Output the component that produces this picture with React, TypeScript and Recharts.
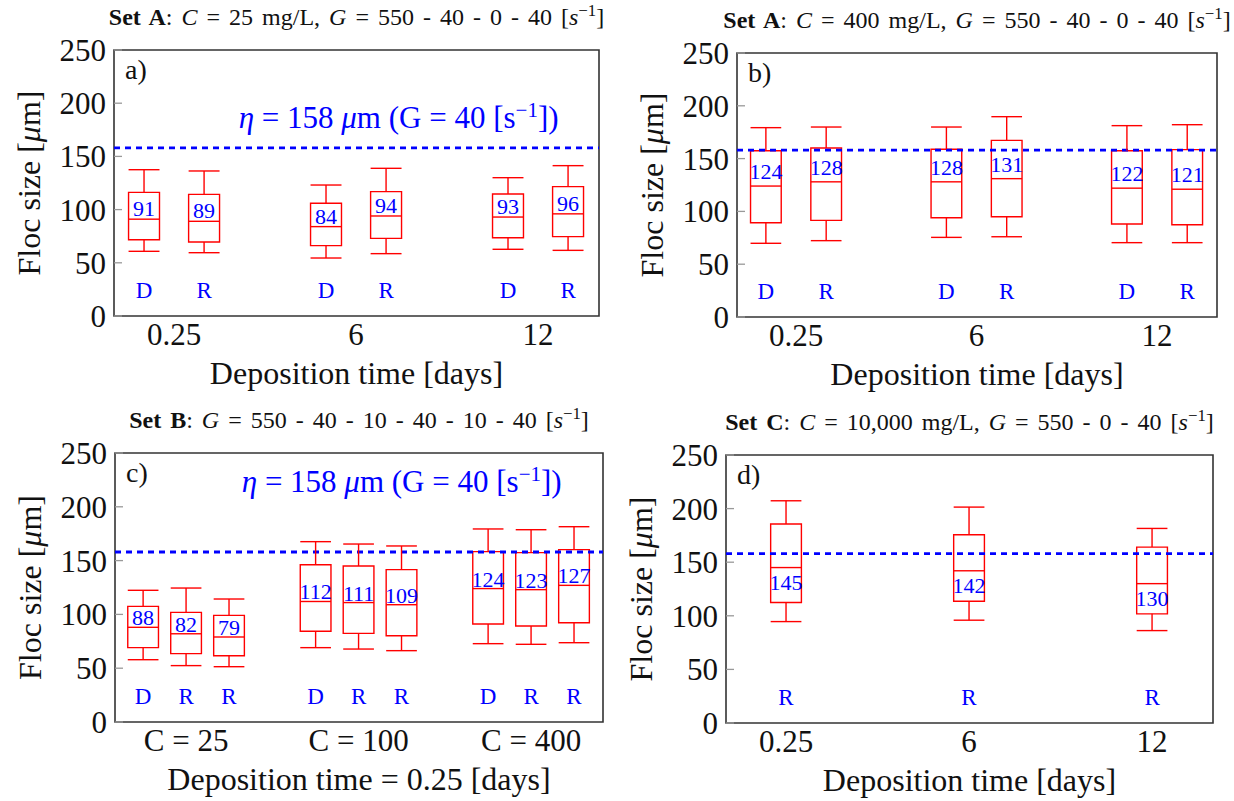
import React from 'react';
import { ComposedChart, XAxis, YAxis, Scatter, ReferenceArea, ReferenceLine } from 'recharts';

const SERIF = 'Liberation Serif, DejaVu Serif, serif';
const RED = '#ff0000';
const BLUE = '#0000ff';
const FRAME = '#333333';
const TICK_GREY = '#999999';

const Y_TICKS = [0, 50, 100, 150, 200, 250];
const ETA = 158; // Kolmogorov microscale for G = 40 s^-1

const timeLabels = ['0.25', '6', '12'];
const concLabels = ['C = 25', 'C = 100', 'C = 400'];

// every box is [min, q1, median, q3, max] in micrometres
const setA25Groups = [1, 1, 2, 2, 3, 3];
const setA25Kinds = ['D', 'R', 'D', 'R', 'D', 'R'];
const setA25Stats = [
  [60.8, 71.7, 91, 116.2, 137.5],
  [59.5, 69.5, 89, 114.3, 136.3],
  [54.5, 66.1, 84, 105.9, 123.1],
  [58.6, 73, 94, 116.9, 138.8],
  [62.7, 73.6, 93, 114.7, 130],
  [61.7, 74.6, 96, 121.6, 141.3],
];

const setA400Groups = [1, 1, 2, 2, 3, 3];
const setA400Kinds = ['D', 'R', 'D', 'R', 'D', 'R'];
const setA400Stats = [
  [69.8, 89.3, 124, 157.5, 179.3],
  [72.3, 91.5, 128, 160, 179.9],
  [75.4, 94, 128, 158.8, 179.9],
  [76, 95, 131, 167.3, 189.7],
  [70.4, 88, 122, 157.5, 181.2],
  [70.4, 87.4, 121, 158.5, 182.1],
];

const setBGroups = [1, 1, 1, 2, 2, 2, 3, 3, 3];
const setBKinds = ['D', 'R', 'R', 'D', 'R', 'R', 'D', 'R', 'R'];
const setBStats = [
  [57.9, 69.1, 88, 107.5, 122.4],
  [52.4, 63.5, 82, 101.9, 124.5],
  [51.4, 61.6, 79, 99.1, 114.3],
  [69.1, 84.3, 112, 146.2, 167.6],
  [67.8, 82.4, 111, 145, 165.4],
  [66.3, 80.2, 109, 141.6, 163.6],
  [72.8, 91.1, 124, 158.3, 179.4],
  [72.2, 89.2, 123, 157.4, 178.7],
  [73.7, 92.3, 127, 160.2, 181.5],
];

const setCGroups = [1, 2, 3];
const setCKinds = ['R', 'R', 'R'];
const setCStats = [
  [94.6, 112.4, 145, 185.6, 207.3],
  [95.9, 113.6, 142, 175.6, 201.4],
  [86.2, 101.8, 130, 164.1, 181.5],
];

const KIND_LEVEL = 17; // height of the D / R markers

const serifText = { fontFamily: SERIF };

const etaNote = (
  <>
    <tspan fontStyle="italic">η</tspan> = 158 <tspan fontStyle="italic">μ</tspan>m (G = 40 [s
    <tspan dy={-11} fontSize={21}>−1</tspan>
    <tspan dy={11}>])</tspan>
  </>
);

const sInv = (
  <>
    [<i>s</i>
    <sup style={{ fontSize: '0.7em', lineHeight: 0, verticalAlign: '0.55em' }}>−1</sup>]
  </>
);

type Panel = {
  letter: string;
  title: React.ReactNode;
  xLabel: string;
  xTicks: string[];
  groups: number[];
  kinds: string[];
  stats: number[][];
  note?: { x: number; y: number };
  medianDy: number;
  slotGap: number;
  halfWidth: number;
  xDomain: [number, number];
  left: number;
  top: number;
  height: number;
  margin: { top: number; right: number; bottom: number; left: number };
  xAxisHeight: number;
};

const panels: Panel[] = [
  {
    letter: 'a)',
    title: (<><b>Set A</b>: <i>C</i> = 25 mg/L, <i>G</i> = 550 - 40 - 0 - 40 {sInv}</>),
    xLabel: 'Deposition time [days]',
    xTicks: timeLabels,
    groups: setA25Groups,
    kinds: setA25Kinds,
    stats: setA25Stats,
    note: { x: 2.234, y: 176.7 },
    medianDy: -3,
    slotGap: 0.33,
    halfWidth: 0.085,
    xDomain: [0.67, 3.335],
    left: 0,
    top: 0,
    height: 400,
    margin: { top: 50, right: 17, bottom: 0, left: 54 },
    xAxisHeight: 84,
  },
  {
    letter: 'b)',
    title: (<><b>Set A</b>: <i>C</i> = 400 mg/L, <i>G</i> = 550 - 40 - 0 - 40 {sInv}</>),
    xLabel: 'Deposition time [days]',
    xTicks: timeLabels,
    groups: setA400Groups,
    kinds: setA400Kinds,
    stats: setA400Stats,
    medianDy: -7,
    slotGap: 0.334,
    halfWidth: 0.085,
    xDomain: [0.673, 3.332],
    left: 617,
    top: 0,
    height: 400,
    margin: { top: 53, right: 16, bottom: 0, left: 60 },
    xAxisHeight: 83,
  },
  {
    letter: 'c)',
    title: (<><b>Set B</b>: <i>G</i> = 550 - 40 - 10 - 40 - 10 - 40 {sInv}</>),
    xLabel: 'Deposition time = 0.25 [days]',
    xTicks: concLabels,
    groups: setBGroups,
    kinds: setBKinds,
    stats: setBStats,
    note: { x: 2.25, y: 213.7 },
    medianDy: -2,
    slotGap: 0.249,
    halfWidth: 0.089,
    xDomain: [0.588, 3.417],
    left: 0,
    top: 400,
    height: 401,
    margin: { top: 53, right: 13, bottom: 0, left: 55 },
    xAxisHeight: 79,
  },
  {
    letter: 'd)',
    title: (<><b>Set C</b>: <i>C</i> = 10,000 mg/L, <i>G</i> = 550 - 0 - 40 {sInv}</>),
    xLabel: 'Deposition time [days]',
    xTicks: timeLabels,
    groups: setCGroups,
    kinds: setCKinds,
    stats: setCStats,
    medianDy: 22,
    slotGap: 0.33,
    halfWidth: 0.084,
    xDomain: [0.672, 3.333],
    left: 617,
    top: 400,
    height: 401,
    margin: { top: 55, right: 20, bottom: 0, left: 49 },
    xAxisHeight: 78,
  },
];

const CHART_W = 617;
const Y_AXIS_W = 60;

function BoxPanel({ p }: { p: Panel }) {
  // horizontal position of each box inside its group
  const xs = p.groups.map((g, i) => {
    const members = p.groups.map((gg, j) => (gg === g ? j : -1)).filter((j) => j >= 0);
    const k = members.indexOf(i);
    return g + (k - (members.length - 1) / 2) * p.slotGap;
  });

  const medians = p.stats.map((s, i) => ({ x: xs[i], y: s[2] }));
  const kindMarks = p.kinds.map((k, i) => ({ x: xs[i], y: KIND_LEVEL, text: k }));
  const noteData = p.note ? [p.note] : [];

  const red = { stroke: RED, strokeWidth: 1.4, ifOverflow: 'visible' as const };
  const boxes = p.stats.flatMap(([lo, q1, med, q3, hi], i) => {
    const x = xs[i];
    const l = x - p.halfWidth;
    const r = x + p.halfWidth;
    return [
      <ReferenceArea key={`box${i}`} x1={l} x2={r} y1={q1} y2={q3} fill="none" fillOpacity={0} {...red} />,
      <ReferenceLine key={`med${i}`} segment={[{ x: l, y: med }, { x: r, y: med }]} {...red} />,
      <ReferenceLine key={`wu${i}`} segment={[{ x, y: q3 }, { x, y: hi }]} {...red} />,
      <ReferenceLine key={`wl${i}`} segment={[{ x, y: lo }, { x, y: q1 }]} {...red} />,
      <ReferenceLine key={`cu${i}`} segment={[{ x: l, y: hi }, { x: r, y: hi }]} {...red} />,
      <ReferenceLine key={`cl${i}`} segment={[{ x: l, y: lo }, { x: r, y: lo }]} {...red} />,
    ];
  });

  const plotLeft = p.margin.left + Y_AXIS_W;
  const plotWidth = CHART_W - p.margin.left - p.margin.right - Y_AXIS_W - 1;

  return (
    <div style={{ position: 'absolute', left: p.left, top: p.top, width: CHART_W, height: p.height, fontFamily: SERIF }}>
      <div
        style={{
          position: 'absolute',
          left: plotLeft - 100,
          width: plotWidth + 200,
          top: p.margin.top - 25 - 20,
          textAlign: 'center',
          fontSize: 24,
          lineHeight: '24px',
          wordSpacing: 3,
          whiteSpace: 'nowrap',
          color: '#111',
        }}
      >
        {p.title}
      </div>
      <ComposedChart width={CHART_W} height={p.height} margin={p.margin} style={serifText}>
        <XAxis
          dataKey="x"
          type="number"
          domain={p.xDomain}
          allowDataOverflow
          ticks={[1, 2, 3]}
          tickFormatter={(v: number) => p.xTicks[v - 1]}
          axisLine={false}
          tickLine={false}
          tickSize={0}
          tickMargin={7}
          height={p.xAxisHeight}
          tick={{ fontSize: 31, fontFamily: SERIF, fill: '#111', style: serifText }}
          label={{
            content: (lp: any) => {
              const vb = lp.viewBox;
              return (
                <text x={vb.x + vb.width / 2} y={vb.y + 68} textAnchor="middle" style={serifText} fontSize={32} fill="#111">
                  {p.xLabel}
                </text>
              );
            },
          }}
        />
        <YAxis
          dataKey="y"
          type="number"
          domain={[0, 250]}
          ticks={Y_TICKS}
          width={Y_AXIS_W}
          axisLine={false}
          tickSize={-8}
          tickMargin={16}
          tickLine={{ stroke: TICK_GREY, strokeWidth: 1.3 }}
          tick={{ fontSize: 31, fontFamily: SERIF, fill: '#111', style: serifText }}
          label={{
            content: (lp: any) => {
              const vb = lp.viewBox;
              const cx = vb.x + vb.width - 74;
              const cy = vb.y + vb.height / 2;
              return (
                <text transform={`translate(${cx}, ${cy}) rotate(-90)`} textAnchor="middle" style={serifText} fontSize={32} fill="#111">
                  Floc size [<tspan fontStyle="italic">μ</tspan>m]
                </text>
              );
            },
          }}
        />
        <YAxis
          yAxisId="right"
          orientation="right"
          type="number"
          domain={[0, 250]}
          ticks={Y_TICKS}
          width={1}
          axisLine={false}
          tick={false}
          tickSize={-8}
          tickLine={{ stroke: TICK_GREY, strokeWidth: 1.3 }}
        />
        <ReferenceArea
          x1={p.xDomain[0]}
          x2={p.xDomain[1]}
          y1={0}
          y2={250}
          fill="none"
          fillOpacity={0}
          stroke={FRAME}
          strokeWidth={1.6}
          label={{
            content: (lp: any) => {
              const vb = lp.viewBox;
              return (
                <text x={vb.x + 11} y={vb.y + 29} style={serifText} fontSize={28} fill="#111">
                  {p.letter}
                </text>
              );
            },
          }}
        />
        <ReferenceLine y={ETA} stroke={BLUE} strokeWidth={2.8} strokeDasharray="6 5" />
        {boxes}
        <Scatter
          data={medians}
          dataKey="y"
          isAnimationActive={false}
          shape={(sp: any) => (
            <text x={sp.cx} y={sp.cy + p.medianDy} textAnchor="middle" style={serifText} fontSize={22} fill={BLUE}>
              {sp.payload.y}
            </text>
          )}
        />
        <Scatter
          data={kindMarks}
          dataKey="y"
          isAnimationActive={false}
          shape={(sp: any) => (
            <text x={sp.cx} y={sp.cy} textAnchor="middle" style={serifText} fontSize={23} fill={BLUE}>
              {sp.payload.text}
            </text>
          )}
        />
        <Scatter
          data={noteData}
          dataKey="y"
          isAnimationActive={false}
          shape={(sp: any) => (
            <text x={sp.cx} y={sp.cy} textAnchor="middle" style={serifText} fontSize={31} fill={BLUE}>
              {etaNote}
            </text>
          )}
        />
      </ComposedChart>
    </div>
  );
}

export default function App() {
  return (
    <div style={{ position: 'absolute', left: 0, top: 0, width: 1234, height: 801, background: '#fff', fontFamily: SERIF }}>
      {panels.map((p) => (
        <BoxPanel key={p.letter} p={p} />
      ))}
    </div>
  );
}
